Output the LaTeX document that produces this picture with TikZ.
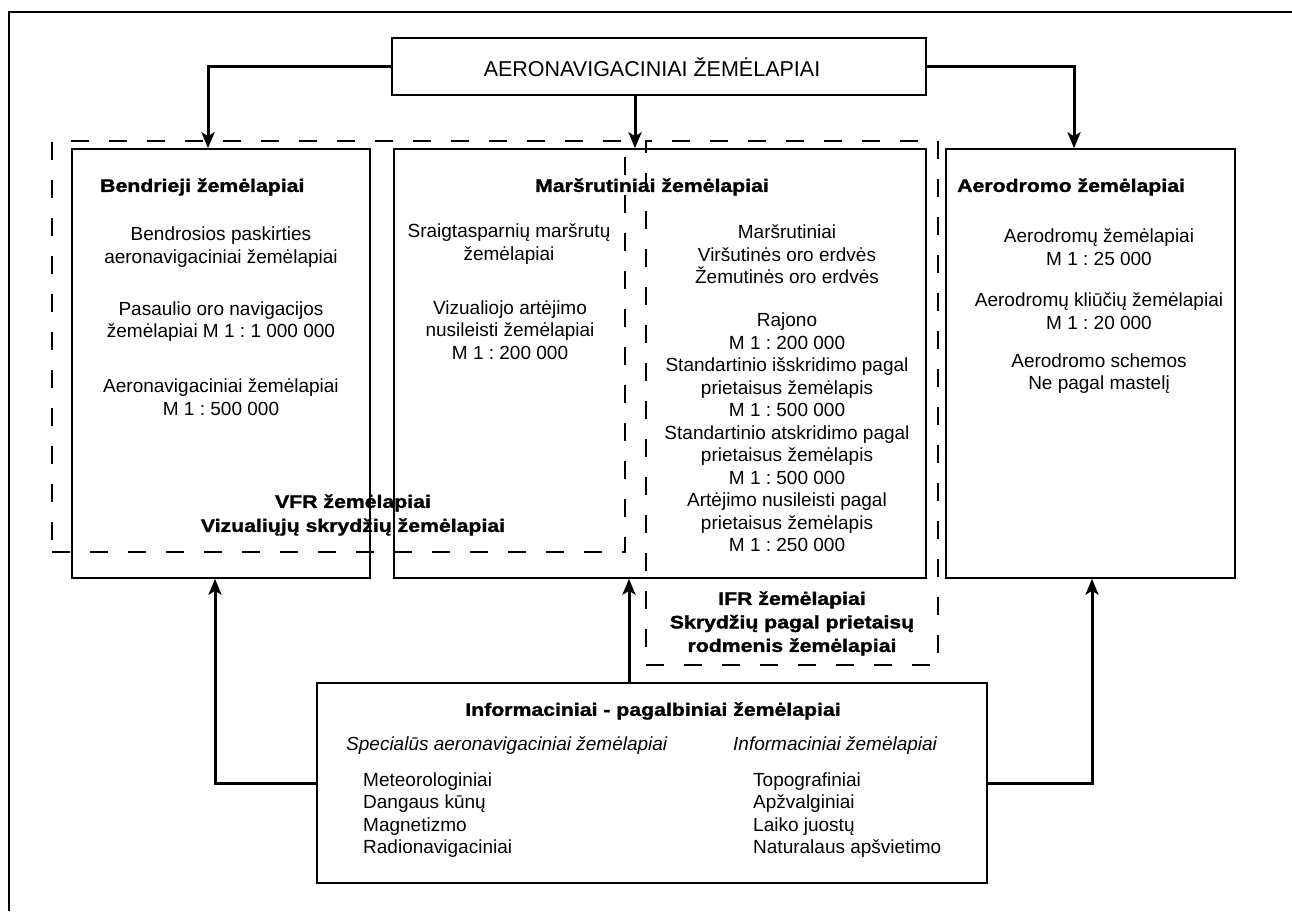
\documentclass[tikz,border=0pt]{standalone}
\usepackage{fontspec}
\setmainfont{Liberation Sans}
\newfontfamily\hvb{Liberation Sans}[FakeStretch=1.18,FakeBold=1.6]
\usetikzlibrary{arrows.meta}
\frenchspacing
\tikzset{
  box/.style={draw, line width=1.5pt, inner sep=0pt},
  zone/.style={draw, line width=1.5pt, dash pattern=on 18pt off 20pt, inner sep=0pt},
  conn/.style={line width=3pt, -{Stealth[length=16pt,width=13pt,inset=4pt]}},
  txt/.style={font=\frenchspacing\fontsize{19}{22.5}\selectfont, align=center, inner sep=0pt},
  ltxt/.style={font=\fontsize{19}{22.5}\selectfont, align=left, inner sep=0pt, anchor=west},
  itxt/.style={font=\itshape\fontsize{19}{22.5}\selectfont, inner sep=0pt, anchor=west},
  head/.style={font=\hvb\bfseries\fontsize{18}{24}\selectfont, inner sep=0pt, align=center},
  title/.style={font=\fontsize{21.5}{24}\selectfont, inner sep=0pt}
}
\begin{document}
\frenchspacing
\begin{tikzpicture}[x=1pt,y=-1pt]
\useasboundingbox (0,0) rectangle (1292,911);
% outer frame
\draw[line width=2pt] (9,911) -- (9,12) -- (1292,12);

% main boxes
\node[box, minimum width=534pt, minimum height=57pt] (top) at (659,66.5) {};
\node[title] (toptxt) at (652,67) {AERONAVIGACINIAI ŽEMĖLAPIAI};

\node[box, minimum width=298pt, minimum height=429pt] (b1) at (221,363.5) {};
\node[box, minimum width=532pt, minimum height=429pt] (b2) at (660,363.5) {};
\node[box, minimum width=289pt, minimum height=429pt] (b4) at (1090.5,363.5) {};
\node[box, minimum width=670pt, minimum height=200pt] (info) at (652,783) {};

% dashed zones
\node[zone, minimum width=573pt, minimum height=411pt] (vfr) at (338.5,346.5) {};
\node[zone, minimum width=292pt, minimum height=524pt] (ifr) at (792,403) {};

% box 1
\node[head, anchor=west] (h1) at (100,187) {Bendrieji žemėlapiai};
\node[txt] (t11) at (221,247) {Bendrosios paskirties\\aeronavigaciniai žemėlapiai};
\node[txt] (t12) at (221,321.5) {Pasaulio oro navigacijos\\žemėlapiai M 1 : 1 000 000};
\node[txt] (t13) at (221,397) {Aeronavigaciniai žemėlapiai\\M 1 : 500 000};

% box 2
\node[head] (h2) at (652,187) {Maršrutiniai žemėlapiai};
\node[txt] (t21) at (509,244) {Sraigtasparnių maršrutų\\žemėlapiai};
\node[txt] (t22) at (510,330) {Vizualiojo artėjimo\\nusileisti žemėlapiai\\M 1 : 200 000};
\node[txt] (t23) at (787,254.5) {Maršrutiniai\\Viršutinės oro erdvės\\Žemutinės oro erdvės};
\node[txt] (t24) at (787,432.5) {Rajono\\M 1 : 200 000\\Standartinio išskridimo pagal\\prietaisus žemėlapis\\M 1 : 500 000\\Standartinio atskridimo pagal\\prietaisus žemėlapis\\M 1 : 500 000\\Artėjimo nusileisti pagal\\prietaisus žemėlapis\\M 1 : 250 000};

% box 4
\node[head, anchor=west] (h4) at (957,187) {Aerodromo žemėlapiai};
\node[txt] (t41) at (1099,247) {Aerodromų žemėlapiai\\M 1 : 25 000};
\node[txt] (t42) at (1099,311) {Aerodromų kliūčių žemėlapiai\\M 1 : 20 000};
\node[txt] (t43) at (1099,373.5) {Aerodromo schemos\\Ne pagal mastelį};

% zone labels
\node[head, font=\hvb\bfseries\fontsize{18}{24}\selectfont] (vfrl) at (353,515) {VFR žemėlapiai\\Vizualiųjų skrydžių žemėlapiai};
\node[head, font=\hvb\bfseries\fontsize{18}{23.5}\selectfont] (ifrl) at (792,623.5) {IFR žemėlapiai\\Skrydžių pagal prietaisų\\rodmenis žemėlapiai};

% info box
\node[head] (h5) at (653,711) {Informaciniai - pagalbiniai žemėlapiai};
\node[itxt] (i1) at (346,746) {Specialūs aeronavigaciniai žemėlapiai};
\node[itxt] (i2) at (733,746) {Informaciniai žemėlapiai};
\node[ltxt] (l1) at (363,815) {Meteorologiniai\\Dangaus kūnų\\Magnetizmo\\Radionavigaciniai};
\node[ltxt] (l2) at (753,815) {Topografiniai\\Apžvalginiai\\Laiko juostų\\Naturalaus apšvietimo};

% connectors
\draw[conn] (top.west) -| ([xshift=-13pt]b1.north);
\draw[conn] ([xshift=-24pt]top.south) -- ([xshift=-25pt]b2.north);
\draw[conn] (top.east) -| ([xshift=-16.5pt]b4.north);
\draw[conn] (info.west) -| ([xshift=-6pt]b1.south);
\draw[conn] ([xshift=-23pt]info.north) -- ([xshift=-31pt]b2.south);
\draw[conn] (info.east) -| ([xshift=1.5pt]b4.south);
\end{tikzpicture}
\end{document}
